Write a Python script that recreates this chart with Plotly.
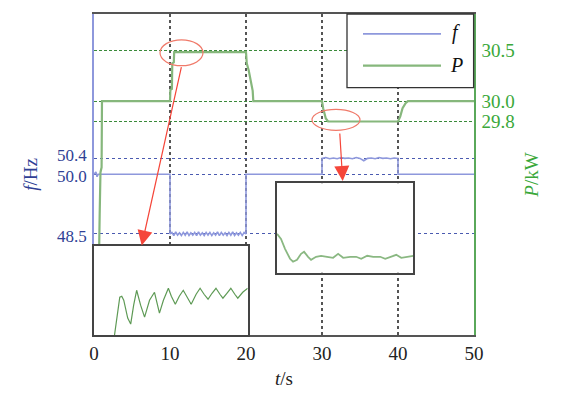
import plotly.graph_objects as go

# ---------------- data ----------------
# main frequency trace f (Hz) versus t (s)
f_t = [0.0, 0.25, 0.4, 0.55, 10.0,
       10.0, 10.25, 10.5, 10.75, 11.0, 11.25, 11.5, 11.75, 12.0, 12.25, 12.5, 12.75,
       13.0, 13.25, 13.5, 13.75, 14.0, 14.25, 14.5, 14.75, 15.0, 15.25, 15.5, 15.75,
       16.0, 16.25, 16.5, 16.75, 17.0, 17.25, 17.5, 17.75, 18.0, 18.25, 18.5, 18.75,
       19.0, 19.25, 19.5, 19.75, 20.0,
       20.0, 30.0,
       30.0, 30.5, 31.0, 31.5, 32.0, 32.5, 33.0, 33.5, 34.0, 34.5, 35.0, 35.5,
       36.0, 36.5, 37.0, 37.5, 38.0, 38.5, 39.0, 39.5, 40.0,
       40.0, 50.0]
f_hz = [50.0, 50.06, 49.94, 50.0, 50.0,
        48.50, 48.54, 48.46, 48.55, 48.47, 48.53, 48.46, 48.54, 48.47, 48.55, 48.46, 48.53,
        48.47, 48.54, 48.46, 48.55, 48.47, 48.53, 48.46, 48.54, 48.47, 48.54, 48.46, 48.53,
        48.47, 48.55, 48.46, 48.54, 48.47, 48.53, 48.46, 48.54, 48.47, 48.55, 48.46, 48.53,
        48.47, 48.54, 48.46, 48.54, 48.50,
        50.0, 50.0,
        50.40, 50.42, 50.39, 50.41, 50.39, 50.42, 50.40, 50.41, 50.39, 50.42, 50.40, 50.34,
        50.40, 50.41, 50.39, 50.42, 50.40, 50.41, 50.39, 50.41, 50.40,
        50.0, 50.0]

# main power trace P (kW) versus t (s)
p_t = [0.0, 0.35, 0.75, 0.85, 1.0, 1.05,
       10.0, 10.05, 10.25, 10.3, 10.5, 10.55,
       20.0, 20.1, 20.36, 20.66, 20.88, 20.96,
       30.0, 30.15, 30.5, 30.8,
       40.0, 40.3, 40.6, 41.0, 41.3, 50.0]
p_kw = [27.0, 27.0, 28.9, 29.3, 29.35, 30.0,
        30.0, 30.11, 30.12, 30.37, 30.38, 30.48,
        30.48, 30.37, 30.3, 30.2, 30.1, 30.0,
        30.0, 29.93, 29.83, 29.8,
        29.8, 29.85, 29.93, 29.98, 30.0, 30.0]

# inset 1: zoom of P just after t = 10 s
in1_t = [10.20, 10.24, 10.26, 10.28, 10.30, 10.34, 10.37, 10.40, 10.43, 10.47, 10.51,
         10.56, 10.61, 10.66, 10.70, 10.75, 10.78, 10.82, 10.86, 10.90, 10.94, 10.98,
         11.03, 11.07, 11.11, 11.15, 11.19, 11.23, 11.27, 11.30, 11.34, 11.38, 11.42,
         11.45, 11.50, 11.55]
in1_p = [30.175, 30.315, 30.39, 30.395, 30.375, 30.285, 30.255, 30.35, 30.425, 30.35, 30.29,
         30.375, 30.415, 30.31, 30.375, 30.435, 30.395, 30.355, 30.395, 30.425, 30.39, 30.355,
         30.405, 30.435, 30.405, 30.38, 30.41, 30.435, 30.405, 30.385, 30.41, 30.435, 30.405,
         30.385, 30.415, 30.435]

# inset 2: zoom of P just after t = 30 s
in2_t = [30.00, 30.04, 30.08, 30.13, 30.16, 30.20, 30.24, 30.27, 30.31, 30.34, 30.39,
         30.44, 30.50, 30.56, 30.61, 30.66, 30.73, 30.79, 30.84, 30.90, 30.96, 31.03,
         31.08, 31.13, 31.19, 31.24, 31.29, 31.36]
in2_p = [29.856, 29.836, 29.796, 29.756, 29.744, 29.752, 29.776, 29.784, 29.764, 29.752, 29.764,
         29.768, 29.764, 29.760, 29.776, 29.760, 29.764, 29.764, 29.756, 29.768, 29.764, 29.764,
         29.756, 29.764, 29.772, 29.760, 29.764, 29.768]

t_ticks = [0, 10, 20, 30, 40, 50]
f_ticks_low = [48.5, 50.0]
f_labels_low = ["48.5", "50.0"]
f_ticks_high = [50.4]
f_labels_high = ["50.4"]
p_ticks = [29.8, 30.0, 30.5]
p_labels = ["29.8", "30.0", "30.5"]

# ---------------- styling ----------------
OFF = 8                      # default page (body) margin of the html page
W, H = 564 - OFF, 393 - OFF  # figure size so that the page is filled exactly
PX0, PX1 = 94, 474           # plot area in page pixels (left/right)
PY0, PY1 = 12, 335           # plot area in page pixels (top/bottom)
ML, MT = PX0 - OFF, PY0 - OFF
MR, MB = W - (PX1 - OFF), H - (PY1 - OFF)
PW, PH = PX1 - PX0, PY1 - PY0
SERIF = "Liberation Serif"
F_COL = "#8e98dc"
P_COL = "#86b77c"
BLUE_TXT = "#2f3f95"
GREEN_TXT = "#3aa83a"
FS = 19
F_RANGE = [45.96, 54.03]


def px(x):
    return (x - PX0) / PW


def py(y):
    return (PY1 - y) / PH


fig = go.Figure()
fig.add_trace(go.Scatter(x=f_t, y=f_hz, mode="lines", name="f",
                         line=dict(color=F_COL, width=1.6), xaxis="x", yaxis="y",
                         showlegend=False))
fig.add_trace(go.Scatter(x=p_t, y=p_kw, mode="lines", name="P",
                         line=dict(color=P_COL, width=2.2), xaxis="x", yaxis="y2",
                         showlegend=False))
fig.add_trace(go.Scatter(x=in1_t, y=in1_p, mode="lines", line=dict(color="#5e9a55", width=1.2),
                         xaxis="x3", yaxis="y3", showlegend=False))
fig.add_trace(go.Scatter(x=in2_t, y=in2_p, mode="lines", line=dict(color="#8ab882", width=1.8),
                         xaxis="x4", yaxis="y4", showlegend=False))
# invisible trace so that the 50.4 label axis is active
fig.add_trace(go.Scatter(x=[0], y=[50.4], mode="markers", marker=dict(opacity=0),
                         xaxis="x", yaxis="y5", showlegend=False, hoverinfo="skip"))

inset_axis = dict(showline=True, mirror=True, linecolor="#444", linewidth=1.5,
                  showgrid=False, zeroline=False, showticklabels=False, ticks="")
f_axis = dict(range=F_RANGE, showline=True, linecolor=F_COL, linewidth=1.5,
              showgrid=True, gridcolor="#4a5ab0", griddash="dot", gridwidth=1, zeroline=False,
              ticks="", tickfont=dict(family=SERIF, size=17, color=BLUE_TXT))

fig.update_layout(
    width=W, height=H,
    margin=dict(l=ML, r=MR, t=MT, b=MB),
    paper_bgcolor="white", plot_bgcolor="white",
    font=dict(family=SERIF, size=FS, color="#222"),
    xaxis=dict(range=[0, 50], tickvals=t_ticks, ticks="", showline=True, mirror=True,
               linecolor="#555", linewidth=1.5, showgrid=True, gridcolor="#555",
               griddash="dot", gridwidth=1.5, zeroline=False,
               tickfont=dict(family=SERIF, size=FS, color="#222"),
               title=dict(text="<i>t</i>/s", font=dict(family=SERIF, size=FS, color="#222"),
                          standoff=9)),
    yaxis=dict(tickvals=f_ticks_low, ticktext=f_labels_low, ticklabelshift=2,
               ticklabelstandoff=2,
               title=dict(text="<i>f</i>/Hz", font=dict(family=SERIF, size=FS, color=BLUE_TXT),
                          standoff=14),
               **f_axis),
    yaxis5=dict(tickvals=f_ticks_high, ticktext=f_labels_high, ticklabelshift=-3,
                ticklabelstandoff=2, overlaying="y", side="left", anchor="x",
                **f_axis),
    yaxis2=dict(range=[27.704, 30.855], tickvals=p_ticks, ticktext=p_labels, ticks="",
                overlaying="y", side="right", anchor="x",
                showline=True, linecolor="#5aa85a", linewidth=1.5, showgrid=True,
                gridcolor="#3a8a3a", griddash="3px,2px", gridwidth=1, zeroline=False,
                ticklabelstandoff=2,
                tickfont=dict(family=SERIF, size=FS, color=GREEN_TXT),
                title=dict(text="<i>P</i>/kW", font=dict(family=SERIF, size=FS, color=GREEN_TXT),
                           standoff=11)),
    xaxis3=dict(domain=[0.0, px(247.7)], anchor="y3", range=[10.0, 11.55], **inset_axis),
    yaxis3=dict(domain=[0.0, py(245)], anchor="x3", range=[30.2, 30.65], **inset_axis),
    xaxis4=dict(domain=[px(277), px(413.3)], anchor="y4", range=[30.0, 31.36], **inset_axis),
    yaxis4=dict(domain=[py(272.3), py(182.3)], anchor="x4", range=[29.7, 30.06], **inset_axis),
)

shapes = [
    # legend box
    dict(type="rect", xref="paper", yref="paper", x0=px(347), x1=px(473.6), y0=py(86), y1=py(12),
         fillcolor="white", line=dict(color="#333", width=1.3), layer="above"),
    dict(type="line", xref="paper", yref="paper", x0=px(363), x1=px(441), y0=py(32), y1=py(32),
         line=dict(color=F_COL, width=1.6), layer="above"),
    dict(type="line", xref="paper", yref="paper", x0=px(363), x1=px(441), y0=py(64), y1=py(64),
         line=dict(color=P_COL, width=2.2), layer="above"),
    # red ellipses
    dict(type="circle", xref="paper", yref="paper", x0=px(160), x1=px(203), y0=py(64), y1=py(38),
         line=dict(color="#f07a6a", width=1.2), layer="above"),
    dict(type="circle", xref="paper", yref="paper", x0=px(312), x1=px(360), y0=py(129), y1=py(108),
         line=dict(color="#f07a6a", width=1.2), layer="above"),
]
fig.update_layout(shapes=shapes)

annotations = [
    dict(text="<i>f</i>", xref="paper", yref="paper", x=px(456), y=py(31), showarrow=False,
         font=dict(family=SERIF, size=20, color="#111"), xanchor="center", yanchor="middle"),
    dict(text="<i>P</i>", xref="paper", yref="paper", x=px(456), y=py(63), showarrow=False,
         font=dict(family=SERIF, size=20, color="#111"), xanchor="center", yanchor="middle"),
    dict(text="", xref="paper", yref="paper", x=px(141.7), y=py(245), ax=40, ay=-180,
         showarrow=True, arrowhead=2, arrowsize=2.5, arrowwidth=1.2, arrowcolor="#f5463a",
         standoff=0),
    dict(text="", xref="paper", yref="paper", x=px(342.7), y=py(180), ax=-3, ay=-49,
         showarrow=True, arrowhead=2, arrowsize=2.5, arrowwidth=1.2, arrowcolor="#f5463a",
         standoff=0),
]
fig.update_layout(annotations=annotations)

fig.write_html("out.html")
